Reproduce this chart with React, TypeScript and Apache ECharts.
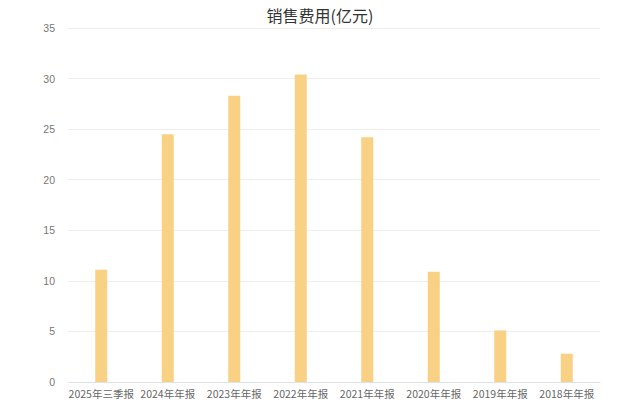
import React, { useEffect, useRef } from 'react';
import * as echarts from 'echarts';

const categories = ['2025年三季报', '2024年年报', '2023年年报', '2022年年报', '2021年年报', '2020年年报', '2019年年报', '2018年年报'];
const values = [11.1, 24.5, 28.3, 30.4, 24.2, 10.9, 5.1, 2.8];
const title = '销售费用(亿元)';

const App = () => {
    const chartRef = useRef(null);

    useEffect(() => {
        const myChart = echarts.init(chartRef.current, null, { renderer: 'svg' });

        myChart.setOption({
            animation: false,
            title: {
                text: title,
                left: 'center',
                top: 2,
                textStyle: {
                    fontSize: 16,
                    fontWeight: 'normal',
                    color: '#333',
                    fontFamily: 'Noto Sans CJK SC',
                },
            },
            grid: {
                left: 68,
                right: 40,
                top: 28,
                bottom: 25,
            },
            xAxis: {
                type: 'category',
                data: categories,
                axisLine: { lineStyle: { color: '#dde2ea' } },
                axisTick: { lineStyle: { color: '#dde2ea' } },
                axisLabel: {
                    interval: 0,
                    hideOverlap: false,
                    color: '#666',
                    fontSize: 10.5,
                    fontFamily: 'Noto Sans CJK SC',
                    margin: 6,
                },
            },
            yAxis: {
                type: 'value',
                min: 0,
                max: 35,
                interval: 5,
                axisLine: { show: false },
                axisTick: { show: false },
                axisLabel: {
                    color: '#777',
                    fontSize: 10.5,
                    margin: 13,
                },
                splitLine: { lineStyle: { color: '#eeeeee' } },
            },
            series: [
                {
                    name: title,
                    type: 'bar',
                    barWidth: 12,
                    itemStyle: { color: '#f8d185' },
                    data: values,
                },
            ],
        });

        return () => {
            myChart.dispose();
        };
    }, []);

    return <div ref={chartRef} style={{ width: '640px', height: '407px', position: 'absolute', left: 0, top: 0 }} />;
};

export default App;
